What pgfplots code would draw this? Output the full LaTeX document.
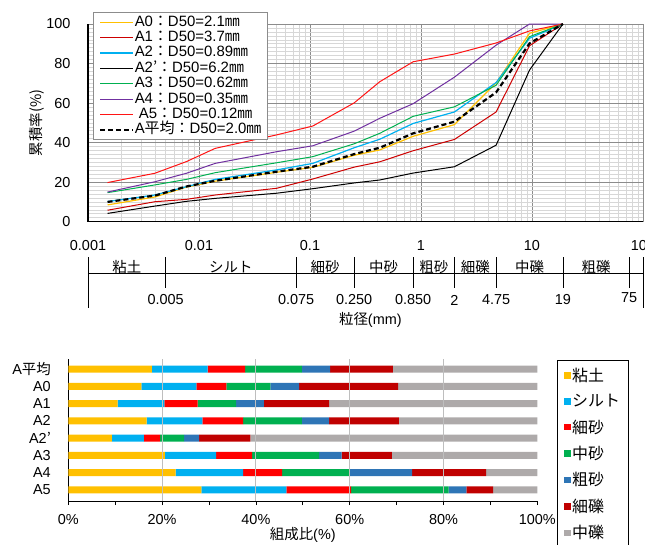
\documentclass[border=0pt]{standalone}
\usepackage{fontspec}
\setmainfont{Liberation Sans}
\newfontfamily\jp{Noto Sans CJK JP}
\usepackage{pgfplots}
\pgfplotsset{compat=1.18}
\definecolor{cA0}{RGB}{255,192,0}
\definecolor{cA1}{RGB}{205,0,0}
\definecolor{cA2}{RGB}{0,176,240}
\definecolor{cA3}{RGB}{0,176,80}
\definecolor{cA4}{RGB}{112,48,160}
\definecolor{cA5}{RGB}{255,20,20}
\definecolor{cClay}{RGB}{255,192,0}
\definecolor{cSilt}{RGB}{0,176,240}
\definecolor{cFS}{RGB}{255,0,0}
\definecolor{cMS}{RGB}{0,176,80}
\definecolor{cCS}{RGB}{46,117,182}
\definecolor{cFG}{RGB}{192,0,0}
\definecolor{cMG}{RGB}{174,170,170}
\definecolor{gmaj}{RGB}{140,140,140}
\definecolor{gmin}{RGB}{215,215,215}
\definecolor{gbar}{RGB}{190,190,190}
\pgfplotsset{sq/.style={fill=#1,draw=none,legend image code/.code={\fill[#1] (0bp,-3.2bp) rectangle (6.4bp,3.2bp);}}}
\begin{document}
\begin{tikzpicture}
% ---------------- grading curves ----------------
\begin{axis}[
  at={(88bp,-24bp)}, anchor=north west,
  scale only axis, width=555bp, height=197.7bp,
  xmode=log, xmin=0.001, xmax=100, ymin=0, ymax=100,
  xtick={0.001,0.01,0.1,1,10,100},
  xticklabels={0.001,0.01,0.1,1,10,100},
  ytick={0,20,...,100},
  minor y tick num=9,
  grid=both,
  major grid style={gmaj, line width=0.8bp},
  minor grid style={gmin, line width=0.6bp},
  axis x line*=bottom, axis y line*=left,
  axis line style={black, line width=1.1bp, -},
  major tick length=0pt, minor tick length=0pt,
  tick label style={font=\fontsize{14.5}{14.5}\selectfont},
  /pgf/number format/assume math mode=true,
  xticklabel style={yshift=-15bp},
  yticklabel style={xshift=-14bp},
  clip=false,
  legend style={at={(0.0095,1.059)}, anchor=north west, draw=gmaj, fill=white,
    font=\fontsize{15}{15}\selectfont, row sep=1.2bp, inner xsep=5.5bp, inner ysep=2.5bp,
    nodes={inner sep=0.6bp, text height=10.5bp, text depth=2.5bp}},
  legend cell align=left,
  legend image code/.code={\draw[#1] (0bp,0bp) -- (33bp,0bp);},
  every axis plot/.append style={line width=1bp},
]
\addplot[cA0, line width=1.2bp] coordinates {(0.0015,8.5)(0.004,12.5)(0.0077,17.5)(0.014,20.5)(0.05,25.0)(0.106,27.5)(0.25,33.6)(0.425,36.3)(0.85,43.2)(2,49.1)(4.75,70.2)(9.5,95.3)(19,100)};
\addlegendentry{A0{\jp ：}D50=2.1{\jp ㎜}}
\addplot[cA1] coordinates {(0.0015,5.8)(0.004,10.1)(0.0077,11.3)(0.014,13.5)(0.05,16.9)(0.106,21.6)(0.25,27.6)(0.425,30.3)(0.85,35.9)(2,41.6)(4.75,55.5)(9.5,89.0)(19,100)};
\addlegendentry{A1{\jp ：}D50=3.7{\jp ㎜}}
\addplot[cA2, line width=1.2bp] coordinates {(0.0015,10.2)(0.004,13.5)(0.0077,17.7)(0.014,21.4)(0.05,26.2)(0.106,29.5)(0.25,37.4)(0.425,41.7)(0.85,49.7)(2,55.5)(4.75,70.4)(9.5,92.8)(19,100)};
\addlegendentry{A2{\jp ：}D50=0.89{\jp ㎜}}
\addplot[black] coordinates {(0.0015,4.2)(0.004,7.9)(0.0077,10.3)(0.014,11.8)(0.05,14.4)(0.106,16.7)(0.25,19.6)(0.425,21.1)(0.85,24.6)(2,27.8)(4.75,38.7)(9.5,76.7)(19,100)};
\addlegendentry{A2{\jp ’：}D50=6.2{\jp ㎜}}
\addplot[cA3] coordinates {(0.0015,14.7)(0.004,18.6)(0.0077,21.4)(0.014,24.8)(0.05,29.8)(0.106,32.9)(0.25,39.4)(0.425,44.7)(0.85,53.3)(2,58.1)(4.75,69.0)(9.5,93.6)(19,100)};
\addlegendentry{A3{\jp ：}D50=0.62{\jp ㎜}}
\addplot[cA4] coordinates {(0.0015,15.0)(0.004,20.2)(0.0077,24.5)(0.014,29.5)(0.05,35.4)(0.106,38.4)(0.25,45.8)(0.425,52.3)(0.85,59.7)(2,73.1)(4.75,89.3)(9.5,100)(19,100)};
\addlegendentry{A4{\jp ：}D50=0.35{\jp ㎜}}
\addplot[cA5] coordinates {(0.0015,19.8)(0.004,24.5)(0.0077,30.4)(0.014,37.1)(0.05,43.9)(0.106,48.4)(0.25,60.1)(0.425,70.8)(0.85,80.9)(2,84.8)(4.75,90.4)(9.5,96.5)(19,100)};
\addlegendentry{\ A5{\jp ：}D50=0.12{\jp ㎜}}
\addplot[black, line width=2.2bp, dash pattern=on 5bp off 3bp] coordinates {(0.0015,10.0)(0.004,13.2)(0.0077,17.8)(0.014,20.7)(0.05,25.3)(0.106,27.8)(0.25,34.2)(0.425,37.4)(0.85,44.7)(2,50.6)(4.75,65.4)(9.5,90.2)(19,100)};
\addlegendentry{A{\jp 平均：}D50=2.0{\jp ㎜}}
% classification band
\draw[black, line width=0.8bp] (axis cs:0.001,-26.25) -- (axis cs:100,-26.25);
\draw[black, line width=0.8bp] (axis cs:0.001,-18.1) -- (axis cs:0.001,-43.7);
\draw[black, line width=0.8bp] (axis cs:100,-18.1) -- (axis cs:100,-43.7);
\draw[black, line width=0.8bp] (axis cs:0.005,-18.1) -- (axis cs:0.005,-33.3);
\draw[black, line width=0.8bp] (axis cs:0.075,-18.1) -- (axis cs:0.075,-33.3);
\draw[black, line width=0.8bp] (axis cs:0.25,-18.1) -- (axis cs:0.25,-33.3);
\draw[black, line width=0.8bp] (axis cs:0.85,-18.1) -- (axis cs:0.85,-33.3);
\draw[black, line width=0.8bp] (axis cs:2,-18.1) -- (axis cs:2,-33.3);
\draw[black, line width=0.8bp] (axis cs:4.75,-18.1) -- (axis cs:4.75,-33.3);
\draw[black, line width=0.8bp] (axis cs:19,-18.1) -- (axis cs:19,-33.3);
\draw[black, line width=0.8bp] (axis cs:75,-18.1) -- (axis cs:75,-33.3);
\begin{scope}[font=\jp\fontsize{14.5}{14.5}\selectfont]
\node at (axis cs:0.002236,-22.9) {粘土};
\node at (axis cs:0.01936,-22.9) {シルト};
\node at (axis cs:0.1369,-22.9) {細砂};
\node at (axis cs:0.461,-22.9) {中砂};
\node at (axis cs:1.304,-22.9) {粗砂};
\node at (axis cs:3.082,-22.9) {細礫};
\node at (axis cs:9.5,-22.9) {中礫};
\node at (axis cs:37.75,-22.9) {粗礫};
\end{scope}
\begin{scope}[font=\fontsize{14.5}{14.5}\selectfont]
\node at (axis cs:0.005,-39.6) {0.005};
\node at (axis cs:0.075,-39.6) {0.075};
\node at (axis cs:0.25,-39.6) {0.250};
\node at (axis cs:0.85,-39.6) {0.850};
\node at (axis cs:2,-39.6) {2};
\node at (axis cs:4.75,-39.6) {4.75};
\node at (axis cs:19,-39.6) {19};
\node at (axis cs:75,-38.2) {75};
\end{scope}
\node[font=\fontsize{14.5}{14.5}\selectfont] at (axis cs:0.35,-49.8) {{\jp 粒径}(mm)};
\node[rotate=90, font=\jp\fontsize{14.5}{14.5}\selectfont] at (axis description cs:-0.092,0.5) {累積率(\%)};
\end{axis}
% ---------------- composition bars ----------------
\begin{axis}[
  at={(68.3bp,-359bp)}, anchor=north west,
  scale only axis, width=469bp, height=142bp,
  xbar stacked, bar width=7bp,
  xmin=0, xmax=100, ymin=-0.64, ymax=7.58,
  ytick={0,...,7},
  yticklabels={A5,A4,A3,A2{\jp ’},A2,A1,A0,A{\jp 平均}},
  xtick={0,20,...,100},
  xticklabel={\pgfmathprintnumber{\tick}\%},
  minor x tick num=1,
  axis x line*=bottom, axis y line*=left,
  axis line style={black, line width=1bp, -},
  x tick style={black, line width=0.8bp},
  tick align=outside,
  major tick length=4bp, minor tick length=4bp,
  ytick style={draw=none},
  tick label style={font=\fontsize{14.5}{14.5}\selectfont},
  /pgf/number format/assume math mode=true,
  xticklabel style={yshift=-6bp},
  yticklabel style={xshift=-10bp},
  clip=false,
  legend style={at={(1.0414,0.993)}, anchor=north west, draw=black, line width=1bp, fill=white,
    font=\jp\fontsize{16}{16}\selectfont, row sep=8.5bp, inner xsep=7bp, inner ysep=6bp,
    nodes={inner sep=1.5bp}},
  legend cell align=left,
]
\draw[gbar, line width=1bp] (axis cs:20,-0.64) -- (axis cs:20,7.58);
\draw[gbar, line width=1bp] (axis cs:40,-0.64) -- (axis cs:40,7.58);
\draw[gbar, line width=1bp] (axis cs:60,-0.64) -- (axis cs:60,7.58);
\draw[gbar, line width=1bp] (axis cs:80,-0.64) -- (axis cs:80,7.58);
% order: A5(0) A4 A3 A2' A2 A1 A0 Aavg(7)
\addplot[sq=cClay] coordinates {(28.4,0)(22.9,1)(20.6,2)(9.3,3)(16.7,4)(10.5,5)(15.6,6)(17.8,7)};
\addlegendentry{粘土}
\addplot[sq=cSilt] coordinates {(18.1,0)(14.4,1)(10.9,2)(6.8,3)(11.9,4)(10.0,5)(11.7,6)(11.9,7)};
\addlegendentry{シルト}
\addplot[sq=cFS] coordinates {(13.8,0)(8.3,1)(7.7,2)(3.5,3)(8.7,4)(7.1,5)(6.4,6)(8.0,7)};
\addlegendentry{細砂}
\addplot[sq=cMS] coordinates {(20.8,0)(14.3,1)(14.3,2)(5.1,3)(12.5,4)(8.2,5)(9.4,6)(12.1,7)};
\addlegendentry{中砂}
\addplot[sq=cCS] coordinates {(3.8,0)(13.4,1)(4.8,2)(3.2,3)(5.8,4)(5.9,5)(6.1,6)(6.0,7)};
\addlegendentry{粗砂}
\addplot[sq=cFG] coordinates {(5.7,0)(15.8,1)(10.7,2)(10.9,3)(14.9,4)(13.9,5)(21.1,6)(13.4,7)};
\addlegendentry{細礫}
\addplot[sq=cMG] coordinates {(9.4,0)(10.9,1)(31.0,2)(61.2,3)(29.5,4)(44.4,5)(29.7,6)(30.8,7)};
\addlegendentry{中礫}
\node[font=\fontsize{14.5}{14.5}\selectfont] at (axis description cs:0.5,-0.239) {{\jp 組成比}(\%)};
\end{axis}
\pgfresetboundingbox
\path[use as bounding box] (0bp,0bp) rectangle (645bp,-545bp);
\end{tikzpicture}
\end{document}
